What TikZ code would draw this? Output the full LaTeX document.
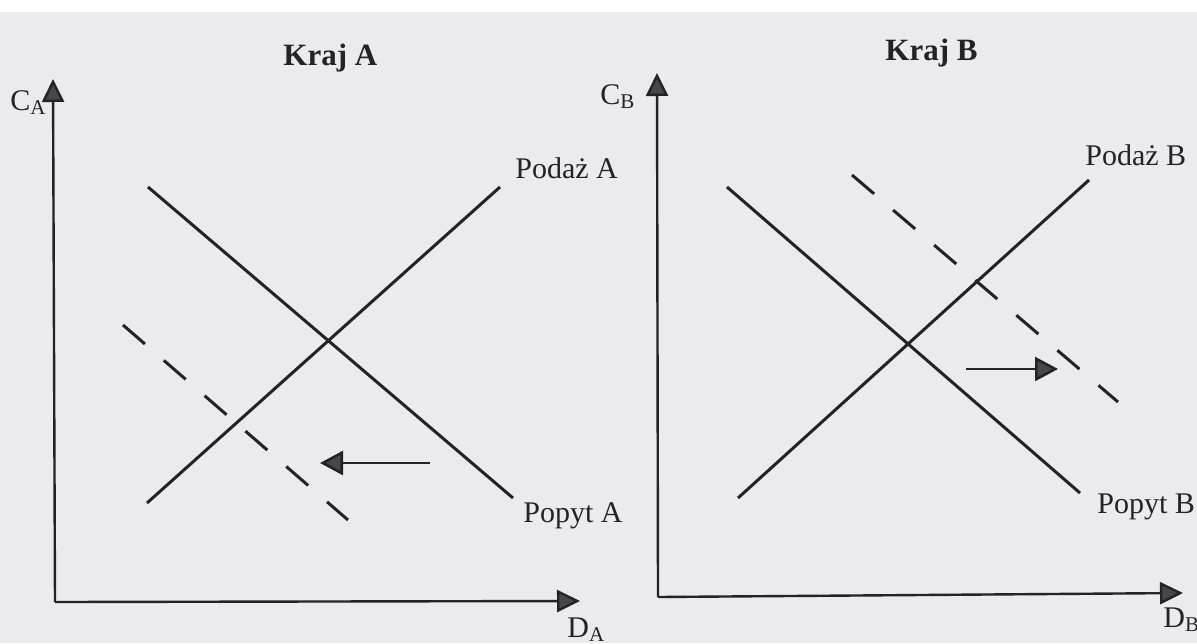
\documentclass[tikz,border=0pt]{standalone}
\usepackage{fontspec}
\setmainfont{Liberation Serif}
\usetikzlibrary{arrows.meta}

\definecolor{scan}{RGB}{235,235,237}
\definecolor{ink}{RGB}{35,35,38}
\definecolor{tipgray}{RGB}{70,70,75}

\tikzset{
  axis/.style={line width=1.2pt, ink, -{Triangle[length=11.5pt,width=11pt,fill=tipgray]}},
  curve/.style={line width=1.5pt, ink},
  shifted/.style={curve, dash pattern=on 14.5pt off 12.5pt},
  move/.style={line width=1.3pt, ink, -{Triangle[length=11.5pt,width=12pt,fill=tipgray]}},
  lbl/.style={font=\fontsize{15}{18}\selectfont, text=ink, inner sep=0pt, anchor=base west},
  title/.style={lbl, font=\fontsize{15.5}{18}\selectfont\bfseries},
}

\begin{document}
\begin{tikzpicture}[x=0.5pt,y=-0.5pt]
  \fill[scan] (0,0) rectangle (1197,643);
  \fill[white] (0,0) rectangle (1197,12);
  \useasboundingbox (0,0) rectangle (1197,643);

  % Kraj A
  \node[title] (krajA) at (283,65) {Kraj A};
  \coordinate (oA) at (55,602);
  \coordinate (cA) at (53,79);
  \coordinate (dA) at (580,601);
  \draw[axis] (oA) -- (cA);
  \draw[axis] (oA) -- (dA);
  \node[lbl] (cAlbl) at (10,110) {C\textsubscript{A}};
  \node[lbl] (dAlbl) at (567,637) {D\textsubscript{A}};

  \coordinate (popA1) at (148,187);
  \coordinate (popA2) at (513,498);
  \coordinate (podA1) at (147,503);
  \coordinate (podA2) at (500,187);
  \coordinate (newA1) at (123,325);
  \coordinate (newA2) at (348,520);
  \draw[curve] (popA1) -- (popA2);
  \draw[curve] (podA1) -- (podA2);
  \draw[shifted] (newA1) -- (newA2);
  \node[lbl] (podAlbl) at (515,178) {Podaż A};
  \node[lbl] (popAlbl) at (523,522) {Popyt A};

  \coordinate (mvA1) at (430,463);
  \coordinate (mvA2) at (320,463);
  \draw[move] (mvA1) -- (mvA2);

  % Kraj B
  \node[title] (krajB) at (885,60) {Kraj B};
  \coordinate (oB) at (658,597);
  \coordinate (cB) at (657,73);
  \coordinate (dB) at (1183,593);
  \draw[axis] (oB) -- (cB);
  \draw[axis] (oB) -- (dB);
  \node[lbl] (cBlbl) at (600,104) {C\textsubscript{B}};
  \node[lbl] (dBlbl) at (1163,627) {D\textsubscript{B}};

  \coordinate (popB1) at (727,187);
  \coordinate (popB2) at (1080,493);
  \coordinate (podB1) at (738,498);
  \coordinate (podB2) at (1089,180);
  \coordinate (newB1) at (852,175);
  \coordinate (newB2) at (1118,402);
  \draw[curve] (popB1) -- (popB2);
  \draw[curve] (podB1) -- (podB2);
  \draw[shifted] (newB1) -- (newB2);
  \node[lbl] (podBlbl) at (1085,165) {Podaż B};
  \node[lbl] (popBlbl) at (1097,513) {Popyt B};

  \coordinate (mvB1) at (966,369);
  \coordinate (mvB2) at (1058,369);
  \draw[move] (mvB1) -- (mvB2);
\end{tikzpicture}
\end{document}
